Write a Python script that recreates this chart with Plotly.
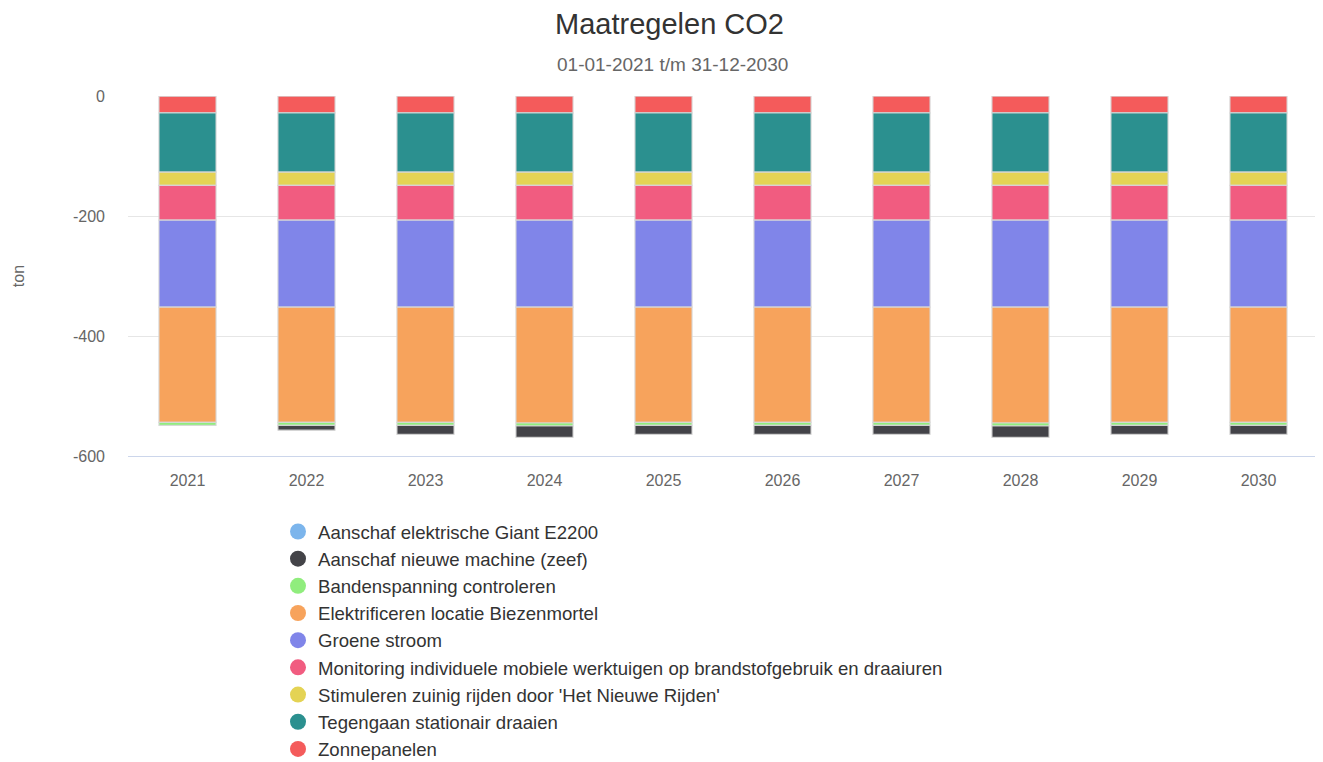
import plotly.graph_objects as go

years = ["2021", "2022", "2023", "2024", "2025", "2026", "2027", "2028", "2029", "2030"]

zonnepanelen = [-28] * 10
tegengaan = [-99] * 10
stimuleren = [-22] * 10
monitoring = [-58] * 10
groene_stroom = [-145] * 10
elektrificeren = [-192, -192, -192, -193, -192, -192, -192, -193, -192, -192]
bandenspanning = [-5] * 10
nieuwe_machine = [0, -8, -15, -19, -15, -15, -15, -19, -15, -15]
giant = [0] * 10

y_ticks = [0, -200, -400, -600]
y_tick_labels = ["0", "-200", "-400", "-600"]

# stacking order from zero downward
stack = [
    ("Zonnepanelen", zonnepanelen, "#f45b5b"),
    ("Tegengaan stationair draaien", tegengaan, "#2b908f"),
    ("Stimuleren zuinig rijden door 'Het Nieuwe Rijden'", stimuleren, "#e4d354"),
    ("Monitoring individuele mobiele werktuigen op brandstofgebruik en draaiuren", monitoring, "#f15c80"),
    ("Groene stroom", groene_stroom, "#8085e9"),
    ("Elektrificeren locatie Biezenmortel", elektrificeren, "#f7a35c"),
    ("Bandenspanning controleren", bandenspanning, "#90ed7d"),
    ("Aanschaf nieuwe machine (zeef)", nieuwe_machine, "#434348"),
    ("Aanschaf elektrische Giant E2200", giant, "#7cb5ec"),
]

fig = go.Figure()
for name, vals, col in stack:
    fig.add_trace(go.Bar(
        x=years, y=vals, name=name, showlegend=False,
        marker=dict(color=col, line=dict(color="rgba(215,215,215,0.9)", width=1.2)),
        width=0.48,
    ))

# legend entries (alphabetical, circle symbols)
for name, vals, col in sorted(stack, key=lambda s: s[0]):
    fig.add_trace(go.Scatter(
        x=[None], y=[None], mode="markers", name=name,
        marker=dict(symbol="circle", size=16, color=col),
    ))

H = 800
font_family = "Liberation Sans, Arial, Helvetica, sans-serif"
fig.update_layout(
    barmode="relative",
    width=1323, height=H,
    paper_bgcolor="white", plot_bgcolor="white",
    margin=dict(l=120, r=13, t=88, b=H - 448),
    font=dict(family=font_family, color="#666666", size=16),
    title=dict(
        text="Maatregelen CO2",
        font=dict(size=29, color="#333333"),
        x=0.5, xanchor="center", xref="container",
        y=1 - 16 / H, yanchor="middle", yref="container",
    ),
    annotations=[dict(
        text="01-01-2021 t/m 31-12-2030", showarrow=False,
        xref="paper", yref="paper",
        x=(664 - 120) / 1190, xanchor="center",
        y=1 + 32 / 360, yanchor="middle",
        font=dict(size=19, color="#666666"),
    )],
    xaxis=dict(
        showline=True, linecolor="#ccd6eb", linewidth=1,
        showgrid=False, ticks="", tickfont=dict(size=16, color="#666666"),
        ticklabelstandoff=10, automargin=False,
    ),
    yaxis=dict(
        range=[-600, 0], tickvals=y_ticks, ticktext=y_tick_labels,
        showgrid=True, gridcolor="#e6e6e6",
        zeroline=False, tickfont=dict(size=16, color="#666666"),
        title=dict(text="ton", font=dict(size=16, color="#666666"), standoff=44),
        ticklabelstandoff=22, automargin=False,
    ),
    legend=dict(
        orientation="v", x=(270 - 120) / 1190, xanchor="left",
        y=-0.158, yanchor="top",
        font=dict(size=18.6, color="#333333"),
        tracegroupgap=0, itemsizing="trace",
    ),
)

fig.write_html("out.html")
